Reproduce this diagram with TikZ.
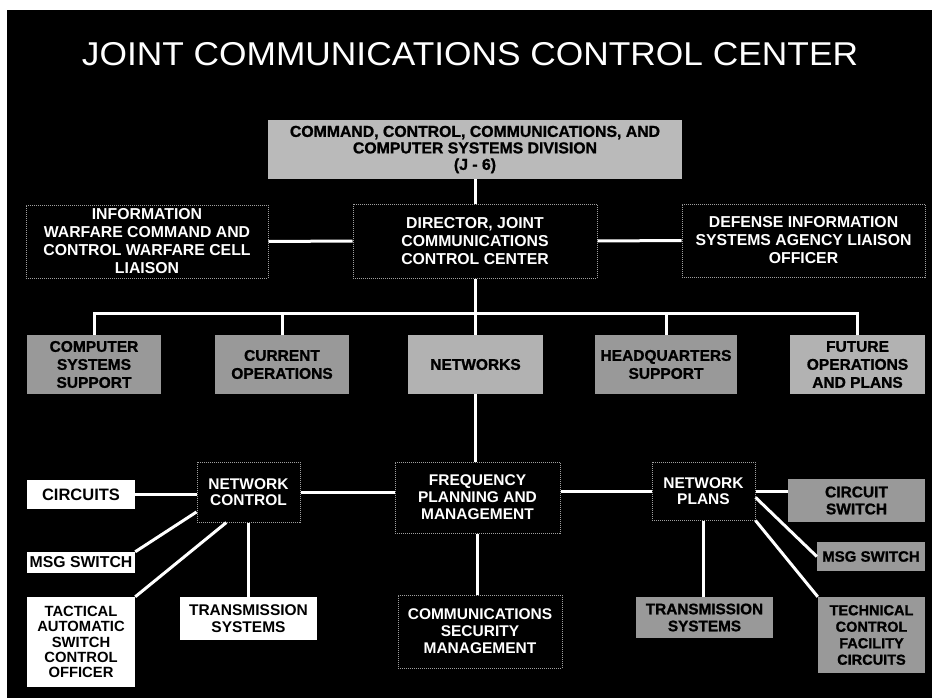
\documentclass[tikz,border=0pt]{standalone}
\usepackage{graphicx}
\usepackage{fontspec}
\setmainfont{Liberation Sans}
\newfontfamily\heavyfont[FakeBold=1.2]{Liberation Sans Bold}
\begin{document}
\begin{tikzpicture}[x=1pt,y=-1pt,
 conn/.style={draw=white, line width=3pt},
 base/.style={inner sep=1pt, align=center, font=\bfseries\fontsize{15.8}{18}\selectfont},
 darkbox/.style={base, fill=black, draw=gray!75, densely dotted, line width=1pt, text=white},
 graybox/.style={base, fill=black!40, text=black, font=\heavyfont\fontsize{15.5}{18}\selectfont},
 lightbox/.style={graybox, fill=black!30},
 whitebox/.style={base, fill=white, text=black},
 sz/.style 2 args={minimum width=#1pt, minimum height=#2pt},
]
\useasboundingbox (0,0) rectangle (932,698);
\fill[white] (0,0) rectangle (932,698);
\fill[black] (7,10) rectangle (932,698);

\node[text=white, font=\fontsize{33}{36}\selectfont] (title) at (470,54)
  {\scalebox{1.07}[1]{JOINT COMMUNICATIONS CONTROL CENTER}};

% top
\node[lightbox, fill=black!27, sz={414}{59}, font=\heavyfont\fontsize{15.8}{16.5}\selectfont] (c4) at (475,149.5)
  {COMMAND, CONTROL, COMMUNICATIONS, AND\\COMPUTER SYSTEMS DIVISION\\(J - 6)};

% row 2
\node[darkbox, sz={242}{73}] (iw) at (147,241.5)
  {INFORMATION\\WARFARE COMMAND AND\\CONTROL WARFARE CELL\\LIAISON};
\node[darkbox, sz={244}{74}] (dir) at (475,241)
  {DIRECTOR, JOINT\\COMMUNICATIONS\\CONTROL CENTER};
\node[darkbox, sz={243}{73}] (disa) at (803.5,240.5)
  {DEFENSE INFORMATION\\SYSTEMS AGENCY LIAISON\\OFFICER};

% row 3
\node[graybox, sz={134}{59}] (css) at (94,364.5) {COMPUTER\\SYSTEMS\\SUPPORT};
\node[graybox, sz={134}{59}] (cur) at (282,364.5) {CURRENT\\OPERATIONS};
\node[lightbox, sz={135}{59}] (net) at (475.5,364.5) {NETWORKS};
\node[graybox, sz={142}{59}] (hq) at (666,364.5) {HEADQUARTERS\\SUPPORT};
\node[lightbox, sz={135}{59}] (fut) at (857.5,364.5) {FUTURE\\OPERATIONS\\AND PLANS};

% row 4 left
\node[whitebox, sz={108}{29}, font=\bfseries\fontsize{16.5}{18}\selectfont] (circ) at (81,494.5) {CIRCUITS};
\node[darkbox, sz={103}{60}, font=\bfseries\fontsize{15.5}{16.5}\selectfont] (nc) at (248.5,492) {NETWORK\\CONTROL};
\node[whitebox, sz={108}{21}] (msgL) at (81,562.5) {MSG SWITCH};
\node[whitebox, sz={108}{90}, font=\bfseries\fontsize{14.8}{15.2}\selectfont] (tac) at (81,642)
  {TACTICAL\\AUTOMATIC\\SWITCH\\CONTROL\\OFFICER};
\node[whitebox, sz={137}{43}, font=\bfseries\fontsize{15.5}{17}\selectfont] (transL) at (248.5,618.5) {TRANSMISSION\\SYSTEMS};

% centre
\node[darkbox, sz={165}{71}, font=\bfseries\fontsize{15.5}{17}\selectfont] (freq) at (477.5,497.5)
  {FREQUENCY\\PLANNING AND\\MANAGEMENT};
\node[darkbox, sz={164}{73}, font=\bfseries\fontsize{15.5}{17}\selectfont] (comsec) at (480,631.5)
  {COMMUNICATIONS\\SECURITY\\MANAGEMENT};

% right
\node[darkbox, sz={103}{58}, font=\bfseries\fontsize{15.5}{16.5}\selectfont] (np) at (703.5,491) {NETWORK\\PLANS};
\node[graybox, sz={137}{43}, font=\heavyfont\fontsize{15.5}{17}\selectfont] (cs) at (856.5,500.5) {CIRCUIT\\SWITCH};
\node[graybox, sz={108}{29}, font=\heavyfont\fontsize{15}{17}\selectfont] (msgR) at (871,556.5) {MSG SWITCH};
\node[graybox, sz={107}{76}, font=\heavyfont\fontsize{14.5}{16.5}\selectfont] (tcf) at (871.5,635)
  {TECHNICAL\\CONTROL\\FACILITY\\CIRCUITS};
\node[graybox, sz={137}{41}, font=\heavyfont\fontsize{15.3}{17}\selectfont] (transR) at (704.5,617.5) {TRANSMISSION\\SYSTEMS};

% connectors
\coordinate (bus) at (476,313);
\draw[conn] (c4.south) -- (c4.south |- dir.north);
\draw[conn] (iw.east) -- (dir.west);
\draw[conn] (dir.east) -- (disa.west);
\draw[conn] (dir.south) -- (dir.south |- net.north);
\draw[conn] (css.north) |- (bus) -| (fut.north);
\draw[conn] (cur.north) |- (bus);
\draw[conn] (hq.north) |- (bus);
\draw[conn] (net.south) -- (net.south |- freq.north);
\draw[conn] (freq.south) -- (freq.south |- comsec.north);
\draw[conn] (nc.east) -- (nc.east -| freq.west);
\draw[conn] (freq.east |- np.east) -- (np.west);
\draw[conn] (np.east) -- (np.east -| cs.west);
\draw[conn] (circ.east) -- (circ.east -| nc.west);
\draw[conn] (msgL.north east) -- (nc.201);
\draw[conn] (tac.north east) -- (nc.234);
\draw[conn] (nc.south) -- (transL.north);
\draw[conn] (np.353) -- (msgR.west);
\draw[conn] (np.south east) -- (tcf.north west);
\draw[conn] (np.south) -- (np.south |- transR.north);
\end{tikzpicture}
\end{document}
